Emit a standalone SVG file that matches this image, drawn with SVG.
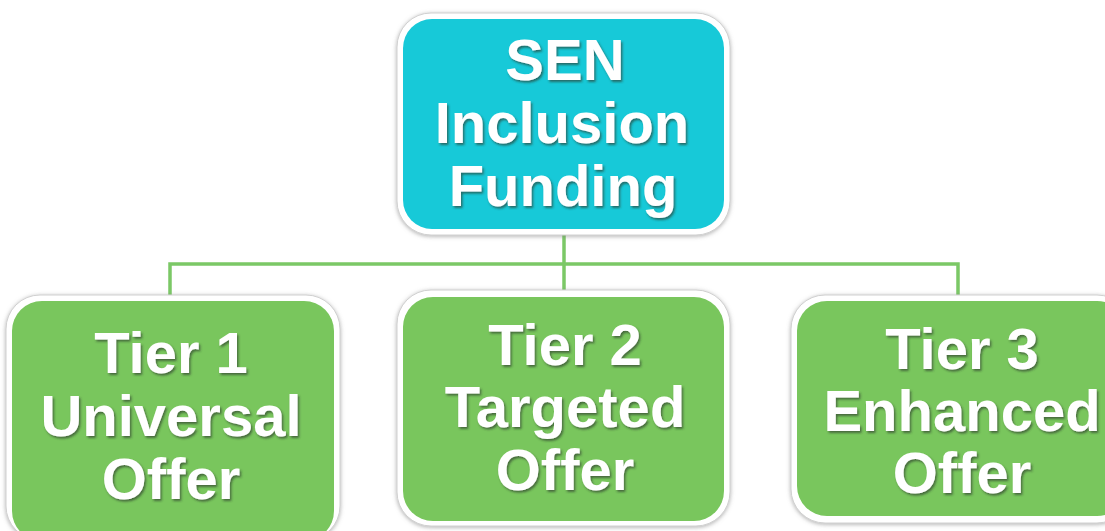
<svg xmlns="http://www.w3.org/2000/svg" width="1105" height="531" viewBox="0 0 1105 531">
  <defs>
    <filter id="boxShadow" x="-10%" y="-10%" width="120%" height="120%">
      <feDropShadow dx="0" dy="1" stdDeviation="2" flood-color="#7a7a7a" flood-opacity="0.6"/>
    </filter>
    <filter id="txtShadow" x="-10%" y="-10%" width="120%" height="130%">
      <feDropShadow dx="1.5" dy="2" stdDeviation="1" flood-color="#2a3a2a" flood-opacity="0.65"/>
    </filter>
    <linearGradient id="greenGrad" x1="0" y1="0" x2="1" y2="1">
      <stop offset="0" stop-color="#7cc862"/>
      <stop offset="1" stop-color="#72c357"/>
    </linearGradient>
  </defs>
  <style>
    .frame { fill: #ffffff; stroke: #d0d0d0; stroke-width: 1; }
    .teal { fill: #17c9d8; }
    .green { fill: #79c65d; }
    .label { font-family: "Liberation Sans", Arial, sans-serif; font-weight: bold; font-size: 58px; fill: #ffffff; text-anchor: middle; }
    .conn { fill: none; stroke: #7bc866; stroke-width: 3.5; stroke-linejoin: miter; }
  </style>
  <rect width="1105" height="531" fill="#ffffff"/>

  <g id="connectors">
    <path class="conn" d="M564 233 V296"/>
    <path class="conn" d="M170 296 V264 H958 V296"/>
  </g>

  <g id="sen-inclusion-funding">
    <rect class="frame" x="397" y="13" width="333" height="222" rx="34" filter="url(#boxShadow)"/>
    <rect class="teal" x="403" y="19" width="321" height="210" rx="29"/>
    <g class="label" filter="url(#txtShadow)">
      <text x="565" y="80">SEN</text>
      <text x="562" y="143">Inclusion</text>
      <text x="563" y="206">Funding</text>
    </g>
  </g>

  <g id="tier1">
    <rect class="frame" x="6" y="295" width="334" height="245" rx="34" filter="url(#boxShadow)"/>
    <rect class="green" x="12" y="301" width="322" height="240" rx="30"/>
    <g class="label" filter="url(#txtShadow)">
      <text x="171" y="373">Tier 1</text>
      <text x="171" y="436">Universal</text>
      <text x="171" y="499">Offer</text>
    </g>
  </g>

  <g id="tier2">
    <rect class="frame" x="397" y="290" width="333" height="236" rx="34" filter="url(#boxShadow)"/>
    <rect class="green" x="403" y="297" width="321" height="224" rx="30"/>
    <g class="label" filter="url(#txtShadow)">
      <text x="565" y="365">Tier 2</text>
      <text x="565" y="427">Targeted</text>
      <text x="565" y="490">Offer</text>
    </g>
  </g>

  <g id="tier3">
    <rect class="frame" x="791" y="295" width="340" height="228" rx="34" filter="url(#boxShadow)"/>
    <rect class="green" x="797" y="301" width="330" height="215" rx="30"/>
    <g class="label" filter="url(#txtShadow)">
      <text x="962" y="369">Tier 3</text>
      <text x="962" y="431">Enhanced</text>
      <text x="962" y="493">Offer</text>
    </g>
  </g>
</svg>
